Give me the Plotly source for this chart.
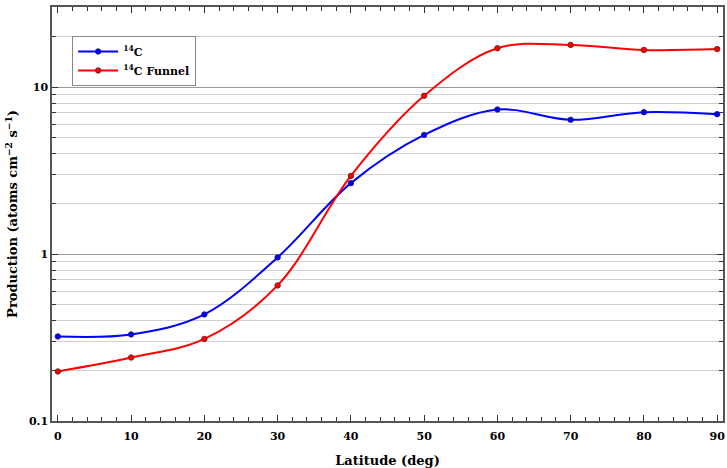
import plotly.graph_objects as go

latitude = [0, 10, 20, 30, 40, 50, 60, 70, 80, 90]
c14 = [0.321, 0.330, 0.435, 0.955, 2.66, 5.17, 7.34, 6.37, 7.08, 6.89]
c14_funnel = [0.198, 0.240, 0.310, 0.649, 2.94, 8.87, 17.1, 17.9, 16.7, 16.9]

FONT = "DejaVu Serif"

fig = go.Figure()
fig.add_trace(go.Scatter(
    x=latitude, y=c14, name="<b><sup>14</sup>C</b>",
    mode="lines+markers",
    line=dict(color="#0000ff", width=2, shape="spline", smoothing=1),
    marker=dict(size=5.5, color="#0000ff", line=dict(color="#1a1a60", width=0.8)),
))
fig.add_trace(go.Scatter(
    x=latitude, y=c14_funnel, name="<b><sup>14</sup>C Funnel</b>",
    mode="lines+markers",
    line=dict(color="#ff0000", width=2, shape="spline", smoothing=1),
    marker=dict(size=5.5, color="#ff0000", line=dict(color="#601a1a", width=0.8)),
))

fig.update_layout(
    width=727, height=468,
    margin=dict(l=52, r=2, t=7, b=47),
    paper_bgcolor="white", plot_bgcolor="white",
    font=dict(family=FONT, size=11, color="black"),
    showlegend=True,
    legend=dict(
        x=0.03, y=0.93, xanchor="left", yanchor="top",
        bgcolor="white", bordercolor="#888888", borderwidth=1,
        font=dict(family=FONT, size=11, color="black"),
        itemwidth=40, tracegroupgap=2,
    ),
)

fig.update_xaxes(
    range=[-0.8, 90.8],
    tickmode="array", tickvals=latitude, ticktext=[f"<b>{v}</b>" for v in latitude],
    ticks="inside", ticklen=6, tickwidth=1, tickcolor="#333333",
    ticklabelstandoff=4,
    minor=dict(dtick=2, ticks="inside", ticklen=4, tickcolor="#333333", showgrid=False),
    showline=True, linecolor="#555555", linewidth=1.5, mirror="allticks",
    showgrid=False, zeroline=False,
    title=dict(text="<b>Latitude (deg)</b>", font=dict(family=FONT, size=13), standoff=14),
    tickfont=dict(family=FONT, size=11),
)

fig.update_yaxes(
    type="log", range=[-1, 1.48],
    tickmode="array", tickvals=[0.1, 1, 10], ticktext=["<b>0.1</b>", "<b>1</b>", "<b>10</b>"],
    ticks="inside", ticklen=6, tickwidth=1, tickcolor="#333333",
    minor=dict(tickmode="array",
               tickvals=[0.2, 0.3, 0.4, 0.5, 0.6, 0.7, 0.8, 0.9,
                         2, 3, 4, 5, 6, 7, 8, 9, 20],
               ticks="inside", ticklen=4, tickcolor="#333333",
               showgrid=True, gridcolor="#d0d0d0", gridwidth=1),
    showline=True, linecolor="#555555", linewidth=1.5, mirror="allticks",
    showgrid=True, gridcolor="#999999", gridwidth=1, zeroline=False,
    title=dict(text="<b>Production (atoms cm<sup>\u22122</sup> s<sup>\u22121</sup>)</b>",
               font=dict(family=FONT, size=13), standoff=8),
    tickfont=dict(family=FONT, size=11),
)

fig.write_html("out.html")
